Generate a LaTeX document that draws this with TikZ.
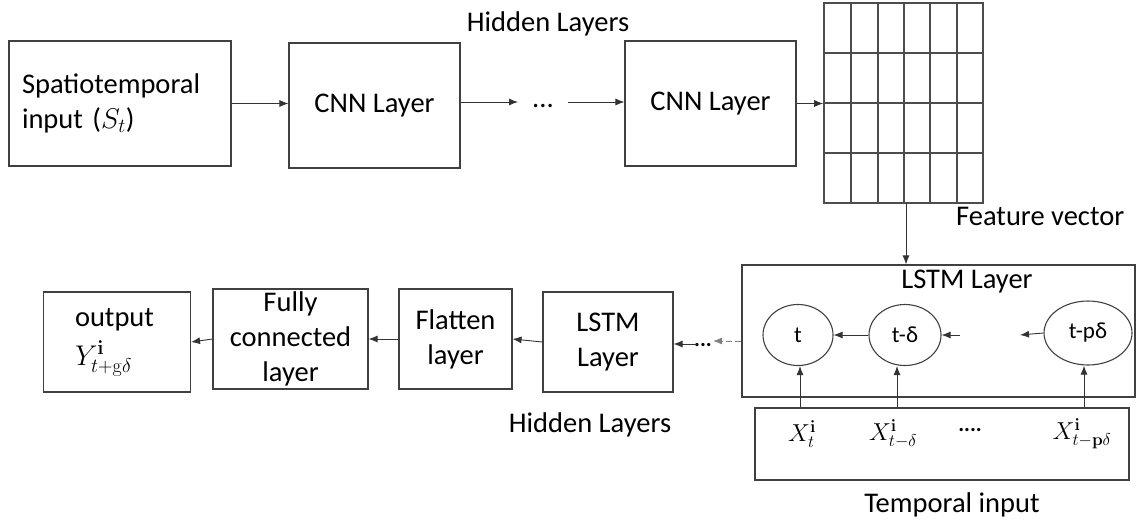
\documentclass[tikz,border=0pt]{standalone}
\usepackage{fix-cm}
\usepackage[no-math]{fontspec}
\setmainfont{Carlito}
\usetikzlibrary{arrows.meta,shapes.geometric}
\begin{document}
\begin{tikzpicture}[x=1pt,y=-1pt,
  line/.style={draw=black!75, line width=1.1pt},
  box/.style={line, inner sep=0pt, align=center, font=\fontsize{28.5}{35}\selectfont},
  lbl/.style={inner sep=0pt, font=\fontsize{28.5}{35}\selectfont},
  small/.style={inner sep=0pt, font=\fontsize{24.5}{28}\selectfont},
  cell/.style={ellipse, line, inner sep=0pt, font=\fontsize{23}{26}\selectfont},
  arr/.style={draw=black!80, line width=0.9pt, -{Latex[length=9,width=7]}},
  gridline/.style={draw=black!70, line width=1.6pt},
]
\useasboundingbox (0,0) rectangle (1142,525);

% convolutional branch
\node[box, minimum width=222, minimum height=125, text width=196, align=left] (sp) at (120,103.5) {Spatiotemporal\\input ($S_t$)};
\node[box, minimum width=171, minimum height=125] (c1) at (374.5,105.5) {CNN Layer};
\node[box, minimum width=171, minimum height=125] (c2) at (710.5,103.5) {CNN Layer};
\node[lbl] (hl1) at (548,24) {Hidden Layers};
\node[lbl, anchor=base] (dd) at (543,107) {...};
\coordinate (d1) at (518,102);
\coordinate (d2) at (568,102);

\draw[arr] (sp.east) -- (sp.east -| c1.west);
\draw[arr] (c1.east |- d1) -- (d1);
\draw[arr] (d2) -- (d2 -| c2.west);

% feature map
\node[line, minimum width=159, minimum height=200, inner sep=0pt, line width=1.6pt, draw=black!70] (fv) at (903.5,103) {};
\foreach \x in {851,878,904,930,957} \draw[gridline] (\x,3) -- (\x,203);
\foreach \y in {53,103,153} \draw[gridline] (824,\y) -- (983,\y);
\draw[arr] (c2.east) -- (c2.east -| fv.west);
\node[lbl, anchor=west] (fvl) at (956,216) {Feature vector};

% recurrent block
\node[line, minimum width=393, minimum height=132, inner sep=0pt] (lb) at (938.5,331) {};
\node[lbl] (lbt) at (967,282) {LSTM Layer};
\coordinate (fvb) at (906,203);
\draw[arr] (fvb) -- (fvb |- lb.north);

\node[cell, minimum width=70, minimum height=61] (ct) at (798,335) {t};
\node[cell, minimum width=72, minimum height=61] (cd) at (905,335) {t-δ};
\node[cell, minimum width=88, minimum height=64] (cp) at (1088,333) {t-pδ};
\coordinate (m1) at (960,335);
\coordinate (m2) at (1020,335);
\draw[arr] (cd.west) -- (ct.east);
\draw[arr] (m1) -- (cd.east);
\draw[arr] (cp.west) -- (m2);

% temporal input
\node[line, minimum width=374, minimum height=72, inner sep=0pt] (tb) at (942,444) {};
\node[small] (x1) at (802,434) {$X^{\mathbf{i}}_{t}$};
\node[small] (x2) at (893,434) {$X^{\mathbf{i}}_{t-\delta}$};
\node[small, font=\fontsize{22}{26}\selectfont\bfseries] (x3) at (970,430) {....};
\node[small] (x4) at (1082,434) {$X^{\mathbf{i}}_{t-\mathbf{p}\delta}$};
\node[lbl] (til) at (952,505) {Temporal input};

\draw[arr] ([xshift=2pt]ct.south |- tb.north) -- ([xshift=2pt]ct.south);
\draw[arr] ([xshift=-8pt]cd.south |- tb.north) -- ([xshift=-8pt]cd.south);
\draw[arr] ([xshift=-4pt]cp.south |- tb.north) -- ([xshift=-4pt]cp.south);

% output branch
\node[box, minimum width=130, minimum height=100] (ls) at (608,342) {LSTM\\Layer};
\node[box, minimum width=113, minimum height=100] (fl) at (455.5,339) {Flatten\\layer};
\node[box, minimum width=155, minimum height=100] (fc) at (290.5,339) {Fully\\connected\\layer};
\node[box, minimum width=147, minimum height=100, text width=84, align=left] (ou) at (117,342) {output\\[4pt]$Y^{\mathbf{i}}_{t+\mathrm{g}\delta}$};
\node[lbl] (hl2) at (590,425) {Hidden Layers};

\node[lbl, font=\fontsize{22}{26}\selectfont\bfseries, anchor=base] (dm) at (703,346) {...};
\coordinate (e1) at (713,341);
\coordinate (e2) at (697,344);
\draw[arr, draw=black!50, dashed, dash pattern=on 6pt off 3pt] (lb.west |- e1) -- (e1);
\draw[arr] (e2) -- (e2 -| ls.east);
\draw[arr] (ls.west) -- (fl.east);
\draw[arr] (fl.west) -- (fc.east);
\draw[arr] (fc.west) -- (ou.east);
\end{tikzpicture}
\end{document}
